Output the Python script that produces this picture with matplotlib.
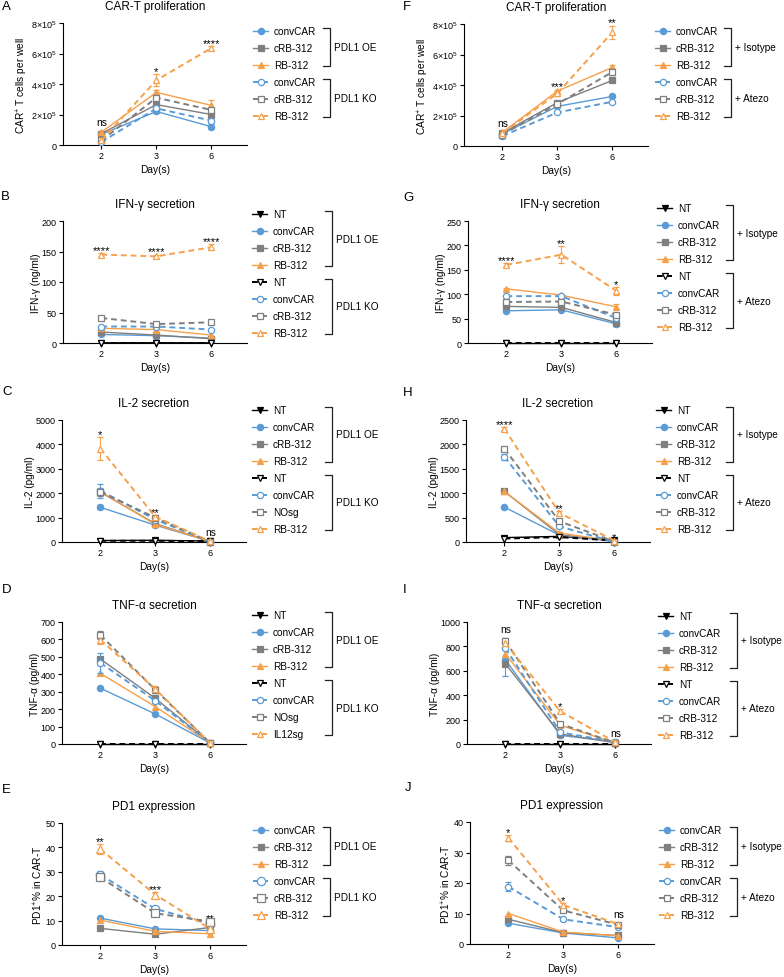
import numpy as np
import matplotlib.pyplot as plt
from matplotlib.lines import Line2D
from matplotlib.ticker import FuncFormatter

plt.rcParams['font.family'] = ['Liberation Sans', 'DejaVu Sans']
plt.rcParams['mathtext.fontset'] = 'custom'
plt.rcParams['mathtext.rm'] = 'Liberation Sans'
plt.rcParams['mathtext.it'] = 'Liberation Sans:italic'
plt.rcParams['mathtext.bf'] = 'Liberation Sans:bold'
plt.rcParams['axes.linewidth'] = 0.8

#########################################################
# values
days = ['2', '3', '6']

# A: CAR-T proliferation, PDL1 OE (solid) / PDL1 KO (dashed)
prolif_oe = {'convCAR': [0.7e5, 2.2e5, 1.2e5], 'cRB-312': [0.75e5, 2.65e5, 2.0e5], 'RB-312': [0.85e5, 3.45e5, 2.6e5]}
prolif_ko = {'convCAR': [0.2e5, 2.4e5, 1.6e5], 'cRB-312': [0.3e5, 3.1e5, 2.3e5], 'RB-312': [0.3e5, 4.25e5, 6.35e5]}
prolif_oe_err = {'convCAR': [0.03e5, 0.1e5, 0.15e5], 'RB-312': [0.05e5, 0.15e5, 0.35e5]}
prolif_ko_err = {'RB-312': [0.05e5, 0.4e5, 0.15e5]}
prolif_ko_sig = ['ns', '*', '****']

# F: CAR-T proliferation, + Isotype (solid) / + Atezo (dashed)
prolif_iso = {'convCAR': [0.8e5, 2.6e5, 3.25e5], 'cRB-312': [0.85e5, 2.85e5, 4.3e5], 'RB-312': [0.9e5, 3.6e5, 5.15e5]}
prolif_atz = {'convCAR': [0.65e5, 2.2e5, 2.9e5], 'cRB-312': [0.75e5, 2.75e5, 4.85e5], 'RB-312': [0.85e5, 3.45e5, 7.45e5]}
prolif_iso_err = {'RB-312': [0.05e5, 0.1e5, 0.15e5]}
prolif_atz_err = {'cRB-312': [0.03e5, 0.05e5, 0.2e5], 'RB-312': [0.05e5, 0.15e5, 0.45e5]}
prolif_atz_sig = ['ns', '***', '**']

# B: IFN-g secretion (ng/ml)
ifng_oe = {'NT': [0.3, 0.4, 0.3], 'convCAR': [14, 12, 8], 'cRB-312': [18, 13, 7], 'RB-312': [24, 22, 13]}
ifng_ko = {'NT': [0.3, 0.3, 0.3], 'convCAR': [27, 27, 22], 'cRB-312': [41, 31, 34], 'RB-312': [145, 142, 157]}
ifng_oe_err = {}
ifng_ko_err = {'RB-312': [2, 3, 5]}
ifng_ko_sig = ['****', '****', '****']

# G: IFN-g secretion (ng/ml)
ifng_iso = {'NT': [0.3, 0.3, 0.3], 'convCAR': [66, 68, 39], 'cRB-312': [75, 73, 42], 'RB-312': [111, 98, 74]}
ifng_atz = {'NT': [0.3, 0.3, 0.3], 'convCAR': [96, 96, 51], 'cRB-312': [84, 85, 58], 'RB-312': [160, 181, 107]}
ifng_iso_err = {'RB-312': [2, 3, 5]}
ifng_atz_err = {'RB-312': [3, 17, 8]}
ifng_atz_sig = ['****', '**', '*']

# C: IL-2 secretion (pg/ml)
il2_oe = {'NT': [60, 70, 40], 'convCAR': [1420, 690, 20], 'cRB-312': [2040, 750, 20], 'RB-312': [2060, 720, 20]}
il2_ko = {'NT': [50, 50, 30], 'convCAR': [2100, 920, 10], 'NOsg': [2050, 1000, 10], 'RB-312': [3830, 1030, 30]}
il2_oe_err = {'convCAR': [80, 40, 0]}
il2_ko_err = {'convCAR': [280, 60, 0], 'NOsg': [150, 80, 0], 'RB-312': [480, 80, 0]}
il2_ko_sig = ['*', '**', 'ns']

# H: IL-2 secretion (pg/ml)
il2_iso = {'NT': [90, 115, 45], 'convCAR': [715, 140, 10], 'cRB-312': [1035, 150, 20], 'RB-312': [1035, 185, 20]}
il2_atz = {'NT': [70, 100, 30], 'convCAR': [1745, 320, 0], 'cRB-312': [1910, 425, 10], 'RB-312': [2320, 595, 30]}
il2_iso_err = {}
il2_atz_err = {'convCAR': [60, 40, 0], 'RB-312': [30, 40, 0]}
il2_atz_sig = ['****', '**', '*']

# D: TNF-a secretion (pg/ml)
tnf_oe = {'NT': [0, 0, 0], 'convCAR': [320, 172, 5], 'cRB-312': [487, 262, 5], 'RB-312': [405, 214, 5]}
tnf_ko = {'NT': [0, 0, 0], 'convCAR': [465, 248, 5], 'NOsg': [625, 311, 5], 'IL12sg': [598, 315, 5]}
tnf_oe_err = {'cRB-312': [15, 10, 0]}
tnf_ko_err = {'convCAR': [55, 15, 0], 'NOsg': [25, 10, 0], 'IL12sg': [25, 20, 0]}

# I: TNF-a secretion (pg/ml)
tnf_iso = {'NT': [0, 0, 0], 'convCAR': [690, 71, 18], 'cRB-312': [658, 82, 10], 'RB-312': [740, 153, 10]}
tnf_atz = {'NT': [0, 0, 0], 'convCAR': [785, 95, 18], 'cRB-312': [845, 165, 10], 'RB-312': [825, 268, 15]}
tnf_iso_err = {'convCAR': [130, 10, 0]}
tnf_atz_err = {'cRB-312': [20, 10, 0], 'RB-312': [45, 15, 0]}
tnf_atz_sig = ['ns', '*', 'ns']

# E: PD1 expression (%)
pd1_oe = {'convCAR': [11, 6.6, 5.9], 'cRB-312': [6.8, 4.4, 7.2], 'RB-312': [10.2, 5.6, 4.6]}
pd1_ko = {'convCAR': [28.8, 14.8, 8.6], 'cRB-312': [27.7, 13, 9.6], 'RB-312': [39.3, 20.6, 6.6]}
pd1_oe_err = {}
pd1_ko_err = {'convCAR': [1.5, 1, 1], 'RB-312': [2, 1, 0.5]}
pd1_ko_sig = ['**', '***', '**']

# J: PD1 expression (%)
pd1_iso = {'convCAR': [6.8, 3.6, 2.0], 'cRB-312': [8.1, 3.7, 2.8], 'RB-312': [10, 3.9, 2.7]}
pd1_atz = {'convCAR': [18.8, 8.1, 5.5], 'cRB-312': [27.4, 11, 6.3], 'RB-312': [34.8, 12.8, 6.5]}
pd1_iso_err = {}
pd1_atz_err = {'convCAR': [1.5, 0.5, 0.3], 'cRB-312': [1.5, 0.5, 0.3], 'RB-312': [1, 0.6, 0.3]}
pd1_atz_sig = ['*', '*', 'ns']

#########################################################
# styles
BLUE, GREY, ORANGE, BLACK = '#5b9bd5', '#7f7f7f', '#f5a04b', '#000000'
colors = {'NT': BLACK, 'convCAR': BLUE, 'cRB-312': GREY, 'NOsg': GREY, 'RB-312': ORANGE, 'IL12sg': ORANGE}
markers = {'NT': 'v', 'convCAR': 'o', 'cRB-312': 's', 'NOsg': 's', 'RB-312': '^', 'IL12sg': '^'}

W, H = 784, 978
fig = plt.figure(figsize=(W / 100, H / 100), dpi=100)


def rect(left, top):
    # axes of 184 x ~122 px, given top-left corner in pixels
    return [left / W, 1 - (top + 122) / H, 184 / W, 122 / H]


def draw(ax, solid, dashed, solid_err, dashed_err, ytop, ystep, ylabel, title, sig=None, sci=False, ms_open=4.5):
    x = np.arange(len(days))
    handles, labels = [], []
    tops = np.zeros(len(days))
    for series, errs, filled in ((solid, solid_err, True), (dashed, dashed_err, False)):
        for name, vals in series.items():
            col = colors[name]
            ls = '-' if filled else (0, (3, 2))
            lw = 1.0 if filled else 1.4
            mfc = col if filled else 'white'
            ms = 4.5 if filled else ms_open
            err = errs.get(name)
            c = ax.errorbar(x, vals, yerr=err, color=col, ls=ls, lw=lw, marker=markers[name], ms=ms,
                            mfc=mfc, mec=col, mew=0.9, capsize=2, elinewidth=0.8, capthick=0.8,
                            zorder=3 if filled else 4)
            for art in c.get_children():
                art.set_clip_on(False)
            tops = np.maximum(tops, np.array(vals) + (np.array(err) if err is not None else 0))
            handles.append(Line2D([], [], color=col, ls=ls, lw=lw, marker=markers[name], ms=ms,
                                  mfc=mfc, mec=col, mew=0.9))
            labels.append(name)
    ax.set_xlim(-0.7, 2.65)
    ax.set_ylim(0, ytop)
    ax.set_xticks(x, days)
    ax.set_yticks(np.arange(0, ytop + ystep / 2, ystep))
    if sci:
        ax.yaxis.set_major_formatter(FuncFormatter(
            lambda v, p: '0' if v == 0 else r'$%d{\times}10^5$' % round(v / 1e5)))
    ax.spines[['top', 'right']].set_visible(False)
    ax.tick_params(length=3, width=0.8, labelsize=6.5, pad=1.5)
    ax.set_xlabel('Day(s)', fontsize=7.3, labelpad=3)
    ax.set_ylabel(ylabel, fontsize=7.3, labelpad=0.5)
    ax.set_title(title, fontsize=8.5, pad=10)
    if sig is not None:
        for i, s in enumerate(sig):
            off = 4.3 if s == 'ns' else 0
            ax.annotate(s, xy=(x[i], tops[i]), xytext=(0, off), textcoords='offset points',
                        ha='center', va='baseline', fontsize=7.3 if s == 'ns' else 8)
    return handles, labels


panels = [
    # letter, letter pos, axes corner, data..., legend pos, bracket x, group names
    ('A', (2, 7), (63, 24), (prolif_oe, prolif_ko, prolif_oe_err, prolif_ko_err, 8e5, 2e5,
     r'CAR$^{+}$ T cells per well', 'CAR-T proliferation', prolif_ko_sig, True), (253, 33), 330, ('PDL1 OE', 'PDL1 KO')),
    ('B', (1, 197), (63, 222), (ifng_oe, ifng_ko, ifng_oe_err, ifng_ko_err, 200, 50,
     'IFN-γ (ng/ml)', 'IFN-γ secretion', ifng_ko_sig, False), (252, 216), 332, ('PDL1 OE', 'PDL1 KO')),
    ('C', (2, 392), (62, 421), (il2_oe, il2_ko, il2_oe_err, il2_ko_err, 5000, 1000,
     'IL-2 (pg/ml)', 'IL-2 secretion', il2_ko_sig, False), (252, 412), 332, ('PDL1 OE', 'PDL1 KO')),
    ('D', (2, 590), (62, 623), (tnf_oe, tnf_ko, tnf_oe_err, tnf_ko_err, 700, 100,
     'TNF-α (pg/ml)', 'TNF-α secretion', None, False), (252, 617), 332, ('PDL1 OE', 'PDL1 KO')),
    ('E', (2, 790), (62, 824), (pd1_oe, pd1_ko, pd1_oe_err, pd1_ko_err, 50, 10,
     r'PD1$^{+}$% in CAR-T', 'PD1 expression', pd1_ko_sig, False), (253, 832), 330, ('PDL1 OE', 'PDL1 KO')),
    ('F', (403, 7), (464, 25), (prolif_iso, prolif_atz, prolif_iso_err, prolif_atz_err, 8e5, 2e5,
     r'CAR$^{+}$ T cells per well', 'CAR-T proliferation', prolif_atz_sig, True), (655, 33), 731, ('+ Isotype', '+ Atezo')),
    ('G', (403, 198), (468, 222), (ifng_iso, ifng_atz, ifng_iso_err, ifng_atz_err, 250, 50,
     'IFN-γ (ng/ml)', 'IFN-γ secretion', ifng_atz_sig, False), (657, 210), 733, ('+ Isotype', '+ Atezo')),
    ('H', (403, 393), (466, 421), (il2_iso, il2_atz, il2_iso_err, il2_atz_err, 2500, 500,
     'IL-2 (pg/ml)', 'IL-2 secretion', il2_atz_sig, False), (656, 412), 733, ('+ Isotype', '+ Atezo')),
    ('I', (403, 590), (467, 623), (tnf_iso, tnf_atz, tnf_iso_err, tnf_atz_err, 1000, 200,
     'TNF-α (pg/ml)', 'TNF-α secretion', tnf_atz_sig, False), (658, 618), 737, ('+ Isotype', '+ Atezo')),
    ('J', (405, 788), (470, 823), (pd1_iso, pd1_atz, pd1_iso_err, pd1_atz_err, 40, 10,
     r'PD1$^{+}$% in CAR-T', 'PD1 expression', pd1_atz_sig, False), (659, 832), 737, ('+ Isotype', '+ Atezo')),
]

legends = []
for letter, lpos, corner, args, legpos, bx, gnames in panels:
    ax = fig.add_axes(rect(*corner))
    ms_open = 6 if letter == 'E' else 4.5
    handles, labels = draw(ax, *args, ms_open=ms_open)
    fig.text(lpos[0] / W, 1 - lpos[1] / H, letter, fontsize=9.5, va='center', ha='left')
    leg = ax.legend(handles, labels, loc='upper left', frameon=False, fontsize=7.2,
                    bbox_to_anchor=(legpos[0] / W, 1 - (legpos[1] - 6) / H), bbox_transform=fig.transFigure,
                    borderpad=0, borderaxespad=0, handlelength=1.5, handletextpad=0.6, labelspacing=0.7)
    legends.append((leg, len(args[0]), bx, gnames))

# brackets grouping the legend entries
fig.canvas.draw()
r = fig.canvas.get_renderer()
for leg, n_solid, bx, gnames in legends:
    rows = [H - (t.get_window_extent(r).y0 + t.get_window_extent(r).y1) / 2 for t in leg.get_texts()]
    for g, (a, b) in enumerate(((0, n_solid - 1), (n_solid, len(rows) - 1))):
        top, bot = rows[a] - 3, rows[b] + 1
        xs = np.array([bx - 7, bx, bx, bx - 7]) / W
        ys = 1 - np.array([top, top, bot, bot]) / H
        fig.add_artist(Line2D(xs, ys, color='#222222', lw=0.9, transform=fig.transFigure))
        fig.text((bx + 4) / W, 1 - (top + bot) / 2 / H, gnames[g], fontsize=7.2, va='center', ha='left')

plt.savefig('out.png', dpi=100)
